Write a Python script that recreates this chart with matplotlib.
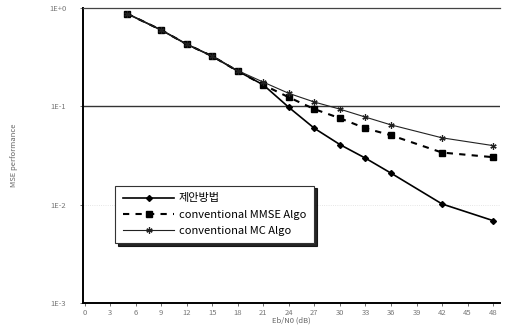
import matplotlib
matplotlib.use("Agg")
import matplotlib.pyplot as plt
from matplotlib.ticker import FixedLocator, FixedFormatter, NullLocator

plt.rcParams["font.family"] = ["Noto Sans CJK KR", "DejaVu Sans"]

# Eb/N0 축 값과 세 알고리즘의 MSE
snr = [5, 9, 12, 15, 18, 21, 24, 27, 30, 33, 36, 42, 48]
mse_proposed = [0.88, 0.60, 0.43, 0.325, 0.229, 0.166, 0.098, 0.060, 0.041, 0.0298, 0.021, 0.0102, 0.0069]
mse_mmse = [0.88, 0.60, 0.43, 0.325, 0.229, 0.166, 0.124, 0.094, 0.076, 0.060, 0.051, 0.034, 0.0305]
mse_mc = [0.88, 0.60, 0.43, 0.325, 0.232, 0.177, 0.136, 0.111, 0.094, 0.078, 0.065, 0.048, 0.040]

labels = ["제안방법", "conventional MMSE Algo", "conventional MC Algo"]
xticks = list(range(0, 49, 3))
yticks = [1e-3, 1e-2, 1e-1, 1e0]
yticklabels = ["1E-3", "1E-2", "1E-1", "1E+0"]

fig = plt.figure(figsize=(5.05, 3.27), dpi=100)
ax = fig.add_axes([0.164, 0.073, 0.826, 0.902])

ax.plot(snr, mse_proposed, color="black", lw=1.2, marker="D", ms=3, label=labels[0], zorder=4)
ax.plot(snr, mse_mmse, color="black", lw=1.5, ls=(0, (3, 3)), marker="s", ms=5, label=labels[1], zorder=3)
ax.plot(snr, mse_mc, color="#222222", lw=0.8, marker=(6, 2, 0), ms=4.5, mew=0.9, label=labels[2], zorder=5)

ax.set_yscale("log")
ax.set_ylim(1e-3, 1e0)
ax.set_xlim(-0.2, 48.8)
ax.yaxis.set_major_locator(FixedLocator(yticks))
ax.yaxis.set_major_formatter(FixedFormatter(yticklabels))
ax.yaxis.set_minor_locator(NullLocator())
ax.set_xticks(xticks)

ax.axhline(1e-1, color="#333333", lw=1.0, zorder=1)
ax.axhline(1e-2, color="#dddddd", lw=0.6, ls=":", zorder=1)

for s in ["left", "bottom"]:
    ax.spines[s].set_linewidth(1.4)
ax.spines["top"].set_color("#444444")
ax.spines["top"].set_linewidth(0.9)
ax.spines["right"].set_visible(False)

ax.tick_params(axis="both", labelsize=5.5, labelcolor="#777777", length=2, width=0.6, color="#555555", pad=2)
ax.tick_params(axis="y", pad=10)

ax.set_xlabel("Eb/N0 (dB)", fontsize=5.5, color="#666666", labelpad=0)
ax.set_ylabel("MSE performance", fontsize=5.5, color="#666666", labelpad=22)

leg = ax.legend(loc="upper left", bbox_to_anchor=(0.065, 0.417), fontsize=8,
                frameon=True, fancybox=False, shadow={"color": "black", "alpha": 0.85},
                handlelength=4.6, handletextpad=0.4, labelspacing=0.55, borderpad=0.7)
leg.get_frame().set_edgecolor("#333333")
leg.get_frame().set_linewidth(0.8)

fig.savefig("out.png", dpi=100)
